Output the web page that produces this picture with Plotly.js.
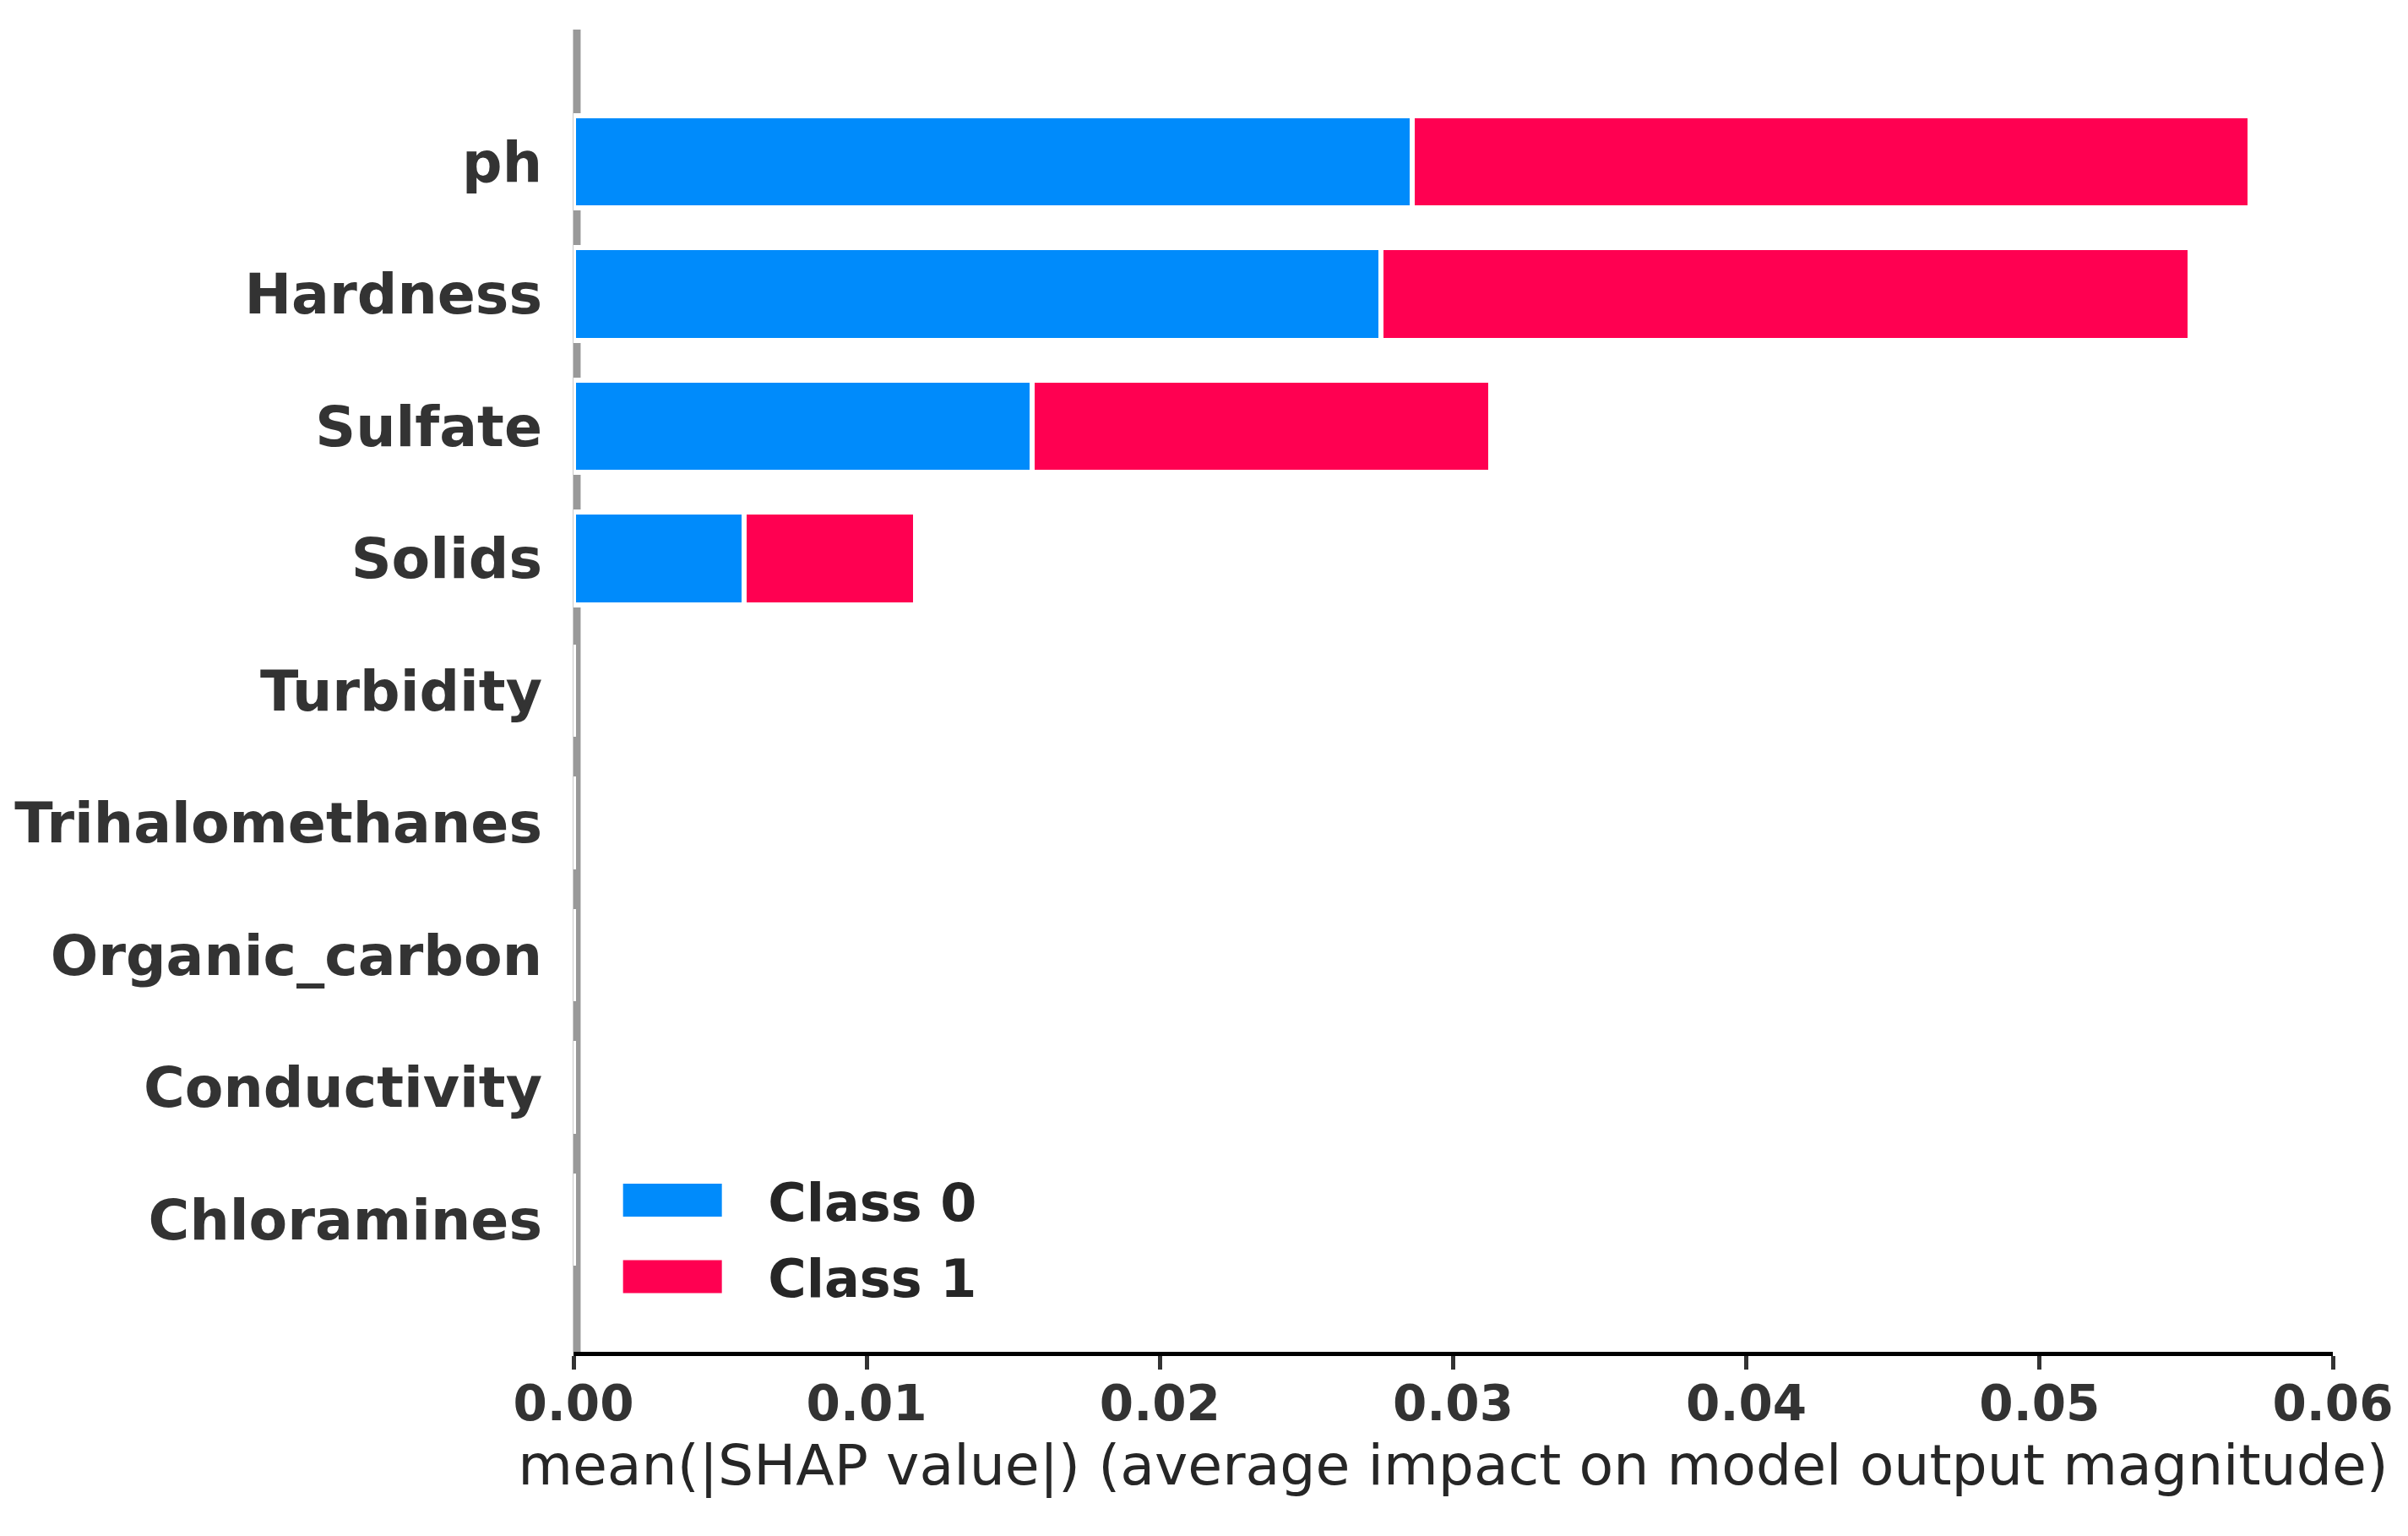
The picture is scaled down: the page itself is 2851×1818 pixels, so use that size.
<!DOCTYPE html>
<html>
<head>
<meta charset="utf-8">
<script src="https://cdn.plot.ly/plotly-3.0.1.min.js"></script>
<style>
  html, body { margin: 0; padding: 0; background: #ffffff; }
  #chart { width: 2851px; height: 1818px; }
</style>
</head>
<body>
<div id="chart"></div>
<script>
// Features, bottom to top
const features = ["Chloramines", "Conductivity", "Organic_carbon", "Trihalomethanes", "Turbidity", "Solids", "Sulfate", "Hardness", "ph"];
const class0 = [0, 0, 0, 0, 0, 0.00582, 0.01564, 0.02755, 0.02859];
const class1 = [0, 0, 0, 0, 0, 0.00585, 0.01563, 0.02757, 0.02859];
const seriesNames = ["Class 0", "Class 1"];
const xTicks = [0, 0.01, 0.02, 0.03, 0.04, 0.05, 0.06];
const xTitle = "mean(|SHAP value|) (average impact on model output magnitude)";

const BLUE = "#008bfb";
const RED = "#ff0051";
const FONT = "DejaVu Sans";

const traces = [
  {
    type: "bar", orientation: "h", name: seriesNames[0], legendgroup: "c0",
    y: features, x: class0, width: 0.7,
    marker: { color: BLUE, line: { color: "#ffffff", width: 6 } },
    hoverinfo: "skip"
  },
  {
    type: "bar", orientation: "h", name: seriesNames[1], legendgroup: "c1",
    y: features, x: class1, width: 0.7,
    marker: { color: RED, line: { color: "#ffffff", width: 6 } },
    hoverinfo: "skip"
  }
];

const layout = {
  width: 2851, height: 1818,
  paper_bgcolor: "#ffffff", plot_bgcolor: "rgba(0,0,0,0)",
  margin: { l: 678.5, r: 88.5, t: 35, b: 218, pad: 0 },
  barmode: "stack",
  showlegend: true,
  legend: {
    x: 0.002, xanchor: "left",
    y: 0.0855, yanchor: "middle",
    traceorder: "grouped",
    tracegroupgap: 7,
    itemwidth: 216,
    bgcolor: "rgba(0,0,0,0)",
    font: { family: FONT, size: 62, color: "#262626", weight: "bold" }
  },
  xaxis: {
    range: [0, 0.06],
    tickvals: xTicks,
    tickformat: ".2f",
    ticks: "outside", ticklen: 16, tickwidth: 5, tickcolor: "#333333",
    showline: true, linecolor: "#000000", linewidth: 5,
    showgrid: false, zeroline: false,
    ticklabelstandoff: -10,
    tickfont: { family: FONT, size: 58, color: "#333333", weight: "bold" },
    title: { text: xTitle, standoff: 17, font: { family: FONT, size: 66.5, color: "#262626" } }
  },
  yaxis: {
    type: "category",
    categoryorder: "array", categoryarray: features,
    range: [-1, 9],
    ticks: "", showline: false, showgrid: false, zeroline: false,
    ticklabelstandoff: 36,
    tickfont: { family: FONT, size: 66.5, color: "#333333", weight: "bold" }
  },
  shapes: [
    { type: "line", xref: "paper", yref: "paper", x0: 0.0019, x1: 0.0019, y0: 0, y1: 1,
      line: { color: "#999999", width: 9 }, layer: "below" }
  ]
};

function fixLegend() {
  document.querySelectorAll("#chart g.legendpoints path").forEach(function (p) {
    p.setAttribute("d", "M58.5,19.5H-58.5V-19.5H58.5Z");
    p.style.strokeWidth = "0px";
  });
}

Plotly.newPlot("chart", traces, layout, { staticPlot: true, displayModeBar: false }).then(function () {
  fixLegend();
  setTimeout(fixLegend, 50);
});
</script>
</body>
</html>
